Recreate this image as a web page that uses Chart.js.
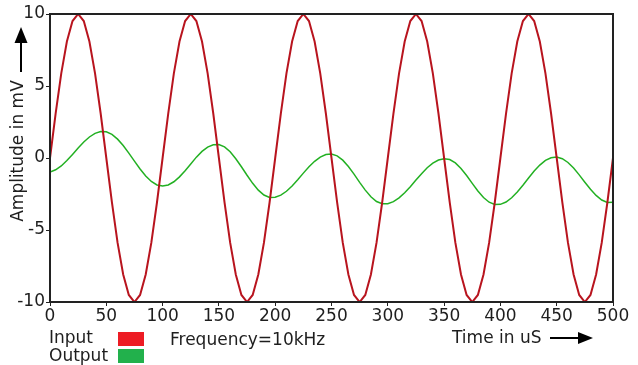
<!DOCTYPE html>
<html>
<head>
<meta charset="utf-8">
<script src="https://cdn.jsdelivr.net/npm/chart.js@4"></script>
<style>
html,body{margin:0;padding:0;background:#fff;}
#wrap{position:relative;width:638px;height:365px;}
</style>
</head>
<body>
<div id="wrap"><canvas id="c" width="638" height="365"></canvas></div>
<script>
// Time in microseconds (x)
const timeUs = [0,5,10,15,20,25,30,35,40,45,50,55,60,65,70,75,80,85,90,95,
100,105,110,115,120,125,130,135,140,145,150,155,160,165,170,175,180,185,190,195,
200,205,210,215,220,225,230,235,240,245,250,255,260,265,270,275,280,285,290,295,
300,305,310,315,320,325,330,335,340,345,350,355,360,365,370,375,380,385,390,395,
400,405,410,415,420,425,430,435,440,445,450,455,460,465,470,475,480,485,490,495,500];

// Input amplitude (mV)
const inputMv = [0,3.09,5.88,8.09,9.51,10,9.51,8.09,5.88,3.09,0,-3.09,-5.88,-8.09,-9.51,-10,-9.51,-8.09,-5.88,-3.09,
0,3.09,5.88,8.09,9.51,10,9.51,8.09,5.88,3.09,0,-3.09,-5.88,-8.09,-9.51,-10,-9.51,-8.09,-5.88,-3.09,
0,3.09,5.88,8.09,9.51,10,9.51,8.09,5.88,3.09,0,-3.09,-5.88,-8.09,-9.51,-10,-9.51,-8.09,-5.88,-3.09,
0,3.09,5.88,8.09,9.51,10,9.51,8.09,5.88,3.09,0,-3.09,-5.88,-8.09,-9.51,-10,-9.51,-8.09,-5.88,-3.09,
0,3.09,5.88,8.09,9.51,10,9.51,8.09,5.88,3.09,0,-3.09,-5.88,-8.09,-9.51,-10,-9.51,-8.09,-5.88,-3.09,0];

// Output amplitude (mV)
const outputMv = [-0.97,-0.82,-0.55,-0.18,0.25,0.69,1.11,1.46,1.71,1.84,
1.82,1.64,1.31,0.87,0.34,-0.22,-0.76,-1.25,-1.63,-1.87,
-1.95,-1.87,-1.65,-1.31,-0.88,-0.41,0.06,0.46,0.76,0.92,
0.94,0.77,0.43,-0.05,-0.61,-1.20,-1.76,-2.23,-2.57,-2.74,
-2.73,-2.58,-2.31,-1.94,-1.51,-1.05,-0.61,-0.23,0.06,0.24,
0.28,0.15,-0.15,-0.59,-1.12,-1.69,-2.23,-2.69,-3.02,-3.18,
-3.18,-3.03,-2.77,-2.41,-1.99,-1.53,-1.09,-0.68,-0.36,-0.14,
-0.05,-0.11,-0.34,-0.73,-1.22,-1.76,-2.29,-2.74,-3.07,-3.23,
-3.22,-3.06,-2.76,-2.36,-1.89,-1.39,-0.91,-0.49,-0.17,0.02,
0.07,-0.05,-0.31,-0.70,-1.17,-1.68,-2.17,-2.60,-2.92,-3.09,-3.08];

const seriesNames = ["Input","Output"];
const legendColors = ["#ED1C24","#22B14C"];
const yTitle = "Amplitude in mV";
const xTitle = "Time in uS";
const noteText = "Frequency=10kHz";

const FONT = "DejaVu Sans";
const TXT = "#1e1e1e";

const decor = {
  id: 'decor',
  afterDraw(chart) {
    const ctx = chart.ctx;
    const a = chart.chartArea;
    ctx.save();
    // frame
    ctx.strokeStyle = "#222";
    ctx.lineWidth = 2;
    ctx.strokeRect(a.left, a.top, a.right - a.left, a.bottom - a.top);
    ctx.fillStyle = TXT;
    ctx.font = "17px '" + FONT + "'";
    ctx.textBaseline = "middle";
    // y title (rotated)
    ctx.save();
    ctx.translate(19, 151);
    ctx.rotate(-Math.PI/2);
    ctx.textAlign = "center";
    ctx.fillText(yTitle, 0, 0);
    ctx.restore();
    // y arrow
    ctx.strokeStyle = "#000";
    ctx.fillStyle = "#000";
    ctx.lineWidth = 2;
    ctx.beginPath(); ctx.moveTo(21, 72); ctx.lineTo(21, 40); ctx.stroke();
    ctx.beginPath(); ctx.moveTo(21, 27); ctx.lineTo(14.5, 43); ctx.lineTo(27.5, 43); ctx.closePath(); ctx.fill();
    // x title and arrow
    ctx.fillStyle = TXT;
    ctx.textAlign = "left";
    ctx.fillText(xTitle, 452, 339);
    ctx.strokeStyle = "#000"; ctx.fillStyle = "#000";
    ctx.beginPath(); ctx.moveTo(550, 338); ctx.lineTo(582, 338); ctx.stroke();
    ctx.beginPath(); ctx.moveTo(593, 338); ctx.lineTo(578, 332); ctx.lineTo(578, 344); ctx.closePath(); ctx.fill();
    // legend
    ctx.fillStyle = TXT;
    ctx.fillText(seriesNames[0], 49, 339);
    ctx.fillText(seriesNames[1], 49, 357);
    ctx.fillStyle = legendColors[0];
    ctx.fillRect(118, 332, 26, 14);
    ctx.fillStyle = legendColors[1];
    ctx.fillRect(118, 349, 26, 14);
    // note
    ctx.fillStyle = TXT;
    ctx.fillText(noteText, 170, 341);
    ctx.restore();
  }
};

new Chart(document.getElementById('c'), {
  type: 'line',
  data: {
    labels: timeUs,
    datasets: [
      { label: seriesNames[0], data: timeUs.map((t,i)=>({x:t,y:inputMv[i]})),
        borderColor: "#B8141E", borderWidth: 2, pointRadius: 0, tension: 0, fill: false },
      { label: seriesNames[1], data: timeUs.map((t,i)=>({x:t,y:outputMv[i]})),
        borderColor: "#22B022", borderWidth: 1.5, pointRadius: 0, tension: 0, fill: false }
    ]
  },
  options: {
    responsive: false,
    animation: false,
    events: [],
    layout: { padding: { left: 0, top: 14, right: 25, bottom: 0 } },
    plugins: { legend: { display: false }, tooltip: { enabled: false } },
    scales: {
      x: {
        type: 'linear', min: 0, max: 500,
        ticks: { stepSize: 50, color: TXT, font: { family: FONT, size: 17 }, padding: 0, maxRotation: 0, autoSkip: false },
        grid: { drawOnChartArea: false, tickLength: 4, color: "#222", lineWidth: 1 },
        border: { display: true, color: "#222", width: 2 },
        afterFit(s) { s.height = 63; }
      },
      y: {
        type: 'linear', min: -10, max: 10,
        ticks: { stepSize: 5, color: TXT, font: { family: FONT, size: 17 }, padding: 1 },
        grid: { drawOnChartArea: false, tickLength: 4, color: "#222", lineWidth: 1 },
        border: { display: true, color: "#222", width: 2 },
        afterFit(s) { s.width = 50; }
      }
    }
  },
  plugins: [decor]
});
</script>
</body>
</html>
